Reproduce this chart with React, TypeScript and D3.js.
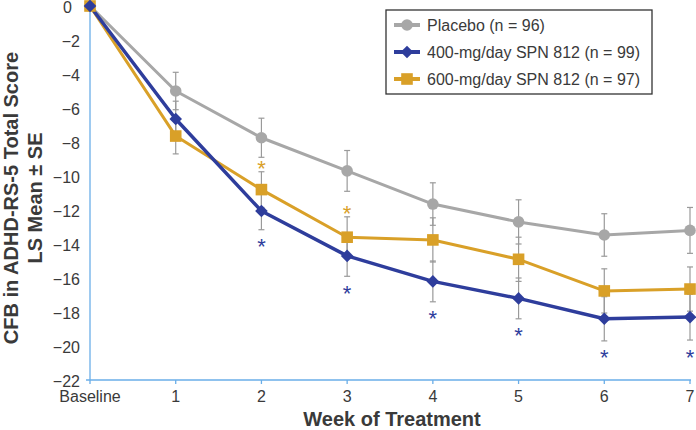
import React from "react";
import * as d3 from "d3";

const weeks = ["Baseline", "1", "2", "3", "4", "5", "6", "7"];
const placeboMean = [0, -5.0, -7.75, -9.7, -11.65, -12.7, -13.47, -13.2];
const placeboSE = [0, 1.1, 1.15, 1.2, 1.25, 1.3, 1.25, 1.35];
const mg400Mean = [0, -6.65, -12.06, -14.7, -16.2, -17.2, -18.4, -18.3];
const mg400SE = [0, 1.05, 1.1, 1.2, 1.2, 1.2, 1.3, 1.35];
const mg600Mean = [0, -7.65, -10.8, -13.6, -13.76, -14.9, -16.76, -16.65];
const mg600SE = [0, 1.05, 1.05, 1.2, 1.3, 1.3, 1.3, 1.3];
const star400 = [false, false, true, true, true, true, true, true];
const star600 = [false, false, true, true, false, false, false, false];
const yTicks = [0, -2, -4, -6, -8, -10, -12, -14, -16, -18, -20, -22];
const legendLabels = ["Placebo (n = 96)", "400-mg/day SPN 812 (n = 99)", "600-mg/day SPN 812 (n = 97)"];

const GRAY = "#a7a7a7";
const BLUE = "#2e3d9c";
const GOLD = "#d9a028";
const AXIS = "#6aaee8";
const TEXT = "#3a3a3a";
const FONT = "'Liberation Sans', Arial, Helvetica, sans-serif";

type Series = { name: string; mean: number[]; se: number[]; color: string; shape: string; width: number };

const series: Series[] = [
  { name: legendLabels[0], mean: placeboMean, se: placeboSE, color: GRAY, shape: "circle", width: 3 },
  { name: legendLabels[2], mean: mg600Mean, se: mg600SE, color: GOLD, shape: "square", width: 3 },
  { name: legendLabels[1], mean: mg400Mean, se: mg400SE, color: BLUE, shape: "diamond", width: 3.5 },
];

function Marker({ shape, x, y, color }: { shape: string; x: number; y: number; color: string }) {
  if (shape === "circle") return <circle cx={x} cy={y} r={5.8} fill={color} />;
  if (shape === "square") return <rect x={x - 5.8} y={y - 5.8} width={11.6} height={11.6} fill={color} />;
  const s = 6.3;
  return <path d={`M${x},${y - s}L${x + s},${y}L${x},${y + s}L${x - s},${y}Z`} fill={color} />;
}

export default function App() {
  const x = d3.scalePoint<string>().domain(weeks).range([90, 690]);
  const y = d3.scaleLinear().domain([0, -22]).range([6, 380]);
  const line = d3
    .line<number>()
    .x((_, i) => x(weeks[i]) as number)
    .y((d) => y(d));

  return (
    <div style={{ position: "absolute", left: 0, top: 0 }}>
      <svg width={696} height={430} style={{ display: "block", fontFamily: FONT }}>
        <rect width={696} height={430} fill="#fff" />
        {/* axes */}
        <line x1={90} x2={90} y1={y(0)} y2={y(-22)} stroke={AXIS} strokeWidth={1.3} />
        <line x1={86} x2={691} y1={y(-22)} y2={y(-22)} stroke={AXIS} strokeWidth={1.3} />
        {weeks.map((w) => (
          <g key={w}>
            <line x1={x(w)} x2={x(w)} y1={y(-22)} y2={y(-22) + 4} stroke={AXIS} strokeWidth={1.3} />
            <text x={x(w)} y={402} fontSize={16} fill={TEXT} textAnchor="middle">
              {w}
            </text>
          </g>
        ))}
        {yTicks.map((t) => (
          <text key={t} x={t === 0 ? 72 : 80} y={y(t) + 7} fontSize={16} fill={TEXT} textAnchor="end">
            {t === 0 ? "0" : "\u2212" + Math.abs(t)}
          </text>
        ))}
        {/* axis titles */}
        <text x={392} y={426} fontSize={20} fontWeight="bold" fill={TEXT} textAnchor="middle">
          Week of Treatment
        </text>
        <text transform="translate(18,198) rotate(-90)" fontSize={20} fontWeight="bold" fill={TEXT} textAnchor="middle">
          CFB in ADHD-RS-5 Total Score
        </text>
        <text transform="translate(42,198) rotate(-90)" fontSize={20} fontWeight="bold" fill={TEXT} textAnchor="middle">
          LS Mean ± SE
        </text>
        {/* error bars */}
        {series.map((s) =>
          s.mean.map((m, i) =>
            s.se[i] > 0 ? (
              <g key={s.name + i} stroke="#9a9a9a" strokeWidth={1.2}>
                <line x1={x(weeks[i])} x2={x(weeks[i])} y1={y(m + s.se[i])} y2={y(m - s.se[i])} />
                <line x1={(x(weeks[i]) as number) - 3} x2={(x(weeks[i]) as number) + 3} y1={y(m + s.se[i])} y2={y(m + s.se[i])} />
                <line x1={(x(weeks[i]) as number) - 3} x2={(x(weeks[i]) as number) + 3} y1={y(m - s.se[i])} y2={y(m - s.se[i])} />
              </g>
            ) : null
          )
        )}
        {/* lines */}
        {series.map((s) => (
          <path key={s.name} d={line(s.mean) as string} fill="none" stroke={s.color} strokeWidth={s.width} strokeLinejoin="round" />
        ))}
        {series.map((s) =>
          s.mean.map((m, i) => <Marker key={s.name + "m" + i} shape={s.shape} x={x(weeks[i]) as number} y={y(m)} color={s.color} />)
        )}
        {/* significance stars */}
        {star600.map((st, i) =>
          st ? (
            <text key={"s6" + i} x={x(weeks[i])} y={y(mg600Mean[i] + mg600SE[i]) - 8 + 12.5} fontSize={22} fill={GOLD} textAnchor="middle">
              *
            </text>
          ) : null
        )}
        {star400.map((st, i) =>
          st ? (
            <text key={"s4" + i} x={x(weeks[i])} y={y(mg400Mean[i] - mg400SE[i]) + 12 + 12.5} fontSize={22} fill={BLUE} textAnchor="middle">
              *
            </text>
          ) : null
        )}
        {/* legend */}
        <rect x={386} y={10} width={266} height={84} fill="#fff" stroke="#333" strokeWidth={1.3} />
        {[
          { label: legendLabels[0], color: GRAY, shape: "circle" },
          { label: legendLabels[1], color: BLUE, shape: "diamond" },
          { label: legendLabels[2], color: GOLD, shape: "square" },
        ].map((l, i) => {
          const cy = 25 + i * 27;
          return (
            <g key={l.label}>
              <line x1={394} x2={420} y1={cy} y2={cy} stroke={l.color} strokeWidth={4} />
              <Marker shape={l.shape} x={407} y={cy} color={l.color} />
              <text x={427} y={cy + 6} fontSize={16} fill={TEXT}>
                {l.label}
              </text>
            </g>
          );
        })}
      </svg>
    </div>
  );
}
